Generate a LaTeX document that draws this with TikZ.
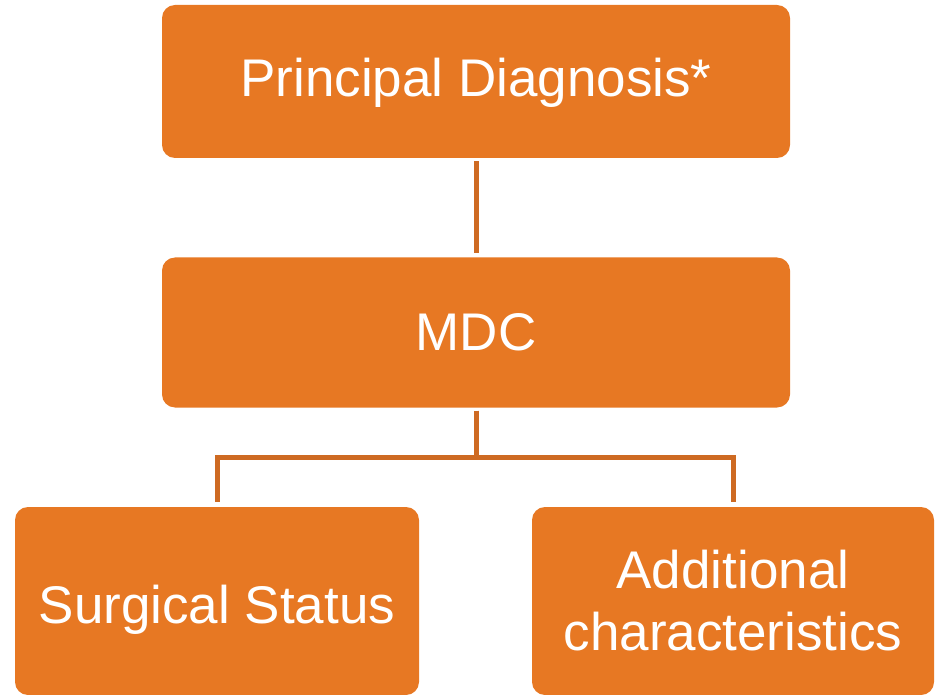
\documentclass[tikz,border=0pt]{standalone}
\usepackage{fontspec}
\setmainfont{Liberation Sans}
\definecolor{boxfill}{RGB}{231,120,35}
\definecolor{linecol}{RGB}{206,106,34}
\begin{document}
\begin{tikzpicture}[x=1pt,y=-1pt,
  box/.style={rectangle, rounded corners=13pt, fill=boxfill, text=white, align=center,
    font=\fontsize{53}{62}\selectfont, inner sep=0pt},
  conn/.style={draw=linecol, line width=5pt}]
\useasboundingbox (0,0) rectangle (935,695);
\node[box, minimum width=628pt, minimum height=153pt, text height=42pt, text depth=11pt] (pd) at (476,81.5) {Principal Diagnosis*};
\node[box, minimum width=628pt, minimum height=150pt] (mdc) at (476,332.5) {MDC};
\node[box, minimum width=404pt, minimum height=188pt, text height=55pt, text depth=11pt] (surg) at (217,601) {Surgical Status};
\node[box, minimum width=402pt, minimum height=188pt] (add) at (733,601) {Additional\\characteristics};
\coordinate (j) at (476,457.5);
\draw[conn, shorten <=3pt, shorten >=4pt] (pd.south) -- (mdc.north);
\draw[conn, shorten <=3pt, shorten >=5pt] (mdc.south) -- (j) -| (surg.north);
\draw[conn, shorten <=3pt, shorten >=5pt] (mdc.south) -- (j) -| (add.north);
\end{tikzpicture}
\end{document}
